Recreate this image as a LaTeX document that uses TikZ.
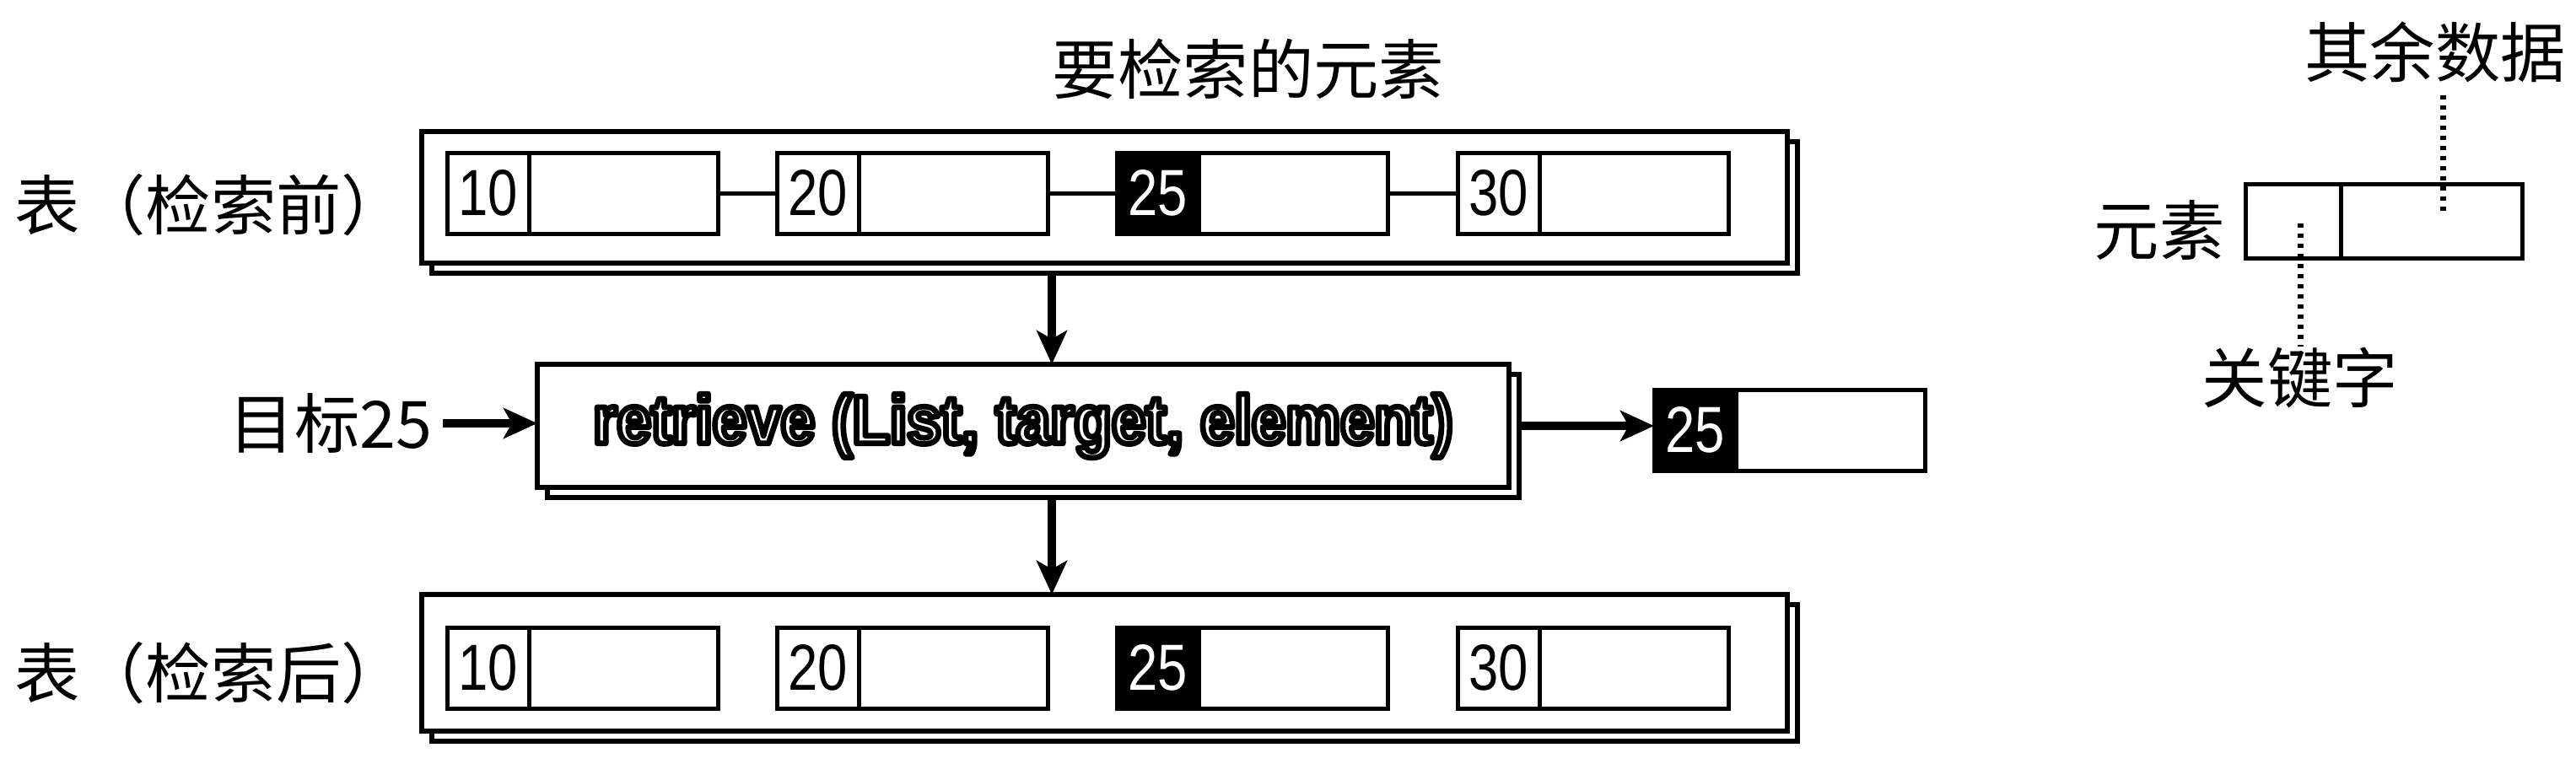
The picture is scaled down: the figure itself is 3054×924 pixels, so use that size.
\documentclass[tikz,border=0pt]{standalone}
\usepackage{fontspec}
\setmainfont{Liberation Sans}
\newfontfamily\cjk{Noto Sans CJK SC}
\newfontfamily\narrow[FakeStretch=0.82]{Liberation Sans}
\newfontfamily\rfont[FakeStretch=0.9]{Liberation Sans}
\usetikzlibrary{arrows.meta}
\newcommand\outlinetext[1]{{\color{white}\special{pdf:literal direct 2 Tr 0 G 1.9 w 1 j}#1\special{pdf:literal direct 0 Tr}}}
\tikzset{
  cjkt/.style={font=\cjk\fontsize{22}{22}\selectfont, inner sep=0pt},
  keycell/.style={draw, line width=0.05cm, outer sep=0pt, minimum width=0.97cm, minimum height=0.96cm, inner sep=0pt, anchor=north west, font=\narrow\fontsize{22}{22}\selectfont},
  keydark/.style={keycell, fill=black, text=white},
  datacell/.style={draw, line width=0.05cm, outer sep=0pt, minimum width=2.24cm, minimum height=0.96cm, inner sep=0pt, anchor=west},
  listbox/.style={draw, line width=0.06cm, outer sep=0pt, fill=white, inner sep=0pt, anchor=north west},
  shadowbox/.style={draw, line width=0.06cm, outer sep=0pt, inner sep=0pt, anchor=north west},
  bigarrow/.style={line width=0.1cm, -{Stealth[length=0.4cm, width=0.36cm, inset=0.1cm]}},
  linkline/.style={line width=0.05cm},
  dotline/.style={line width=0.07cm, dash pattern=on 0.05cm off 0.07cm}
}
\begin{document}
\begin{tikzpicture}[x=0.01cm, y=-0.01cm]
\useasboundingbox (0,0) rectangle (3054,924);

% title
\node[cjkt] (title) at (1480,82) {要检索的元素};

% ---------- top list ----------
\node[cjkt] (lbltop) at (250,243) {表（检索前）};
\node[shadowbox, minimum width=16.18cm, minimum height=1.56cm] (topsh) at (512,168) {};
\node[listbox, minimum width=16.18cm, minimum height=1.56cm] (top) at (500,156) {};

\node[keycell] (tk1) at (530,181) {10};
\node[datacell] (td1) at (tk1.east) {};
\node[keycell] (tk2) at (921,181) {20};
\node[datacell] (td2) at (tk2.east) {};
\node[keydark] (tk3) at (1324,181) {25};
\node[datacell] (td3) at (tk3.east) {};
\node[keycell] (tk4) at (1728,181) {30};
\node[datacell] (td4) at (tk4.east) {};
\draw[linkline] (td1.east) -- (tk2.west);
\draw[linkline] (td2.east) -- (tk3.west);
\draw[linkline] (td3.east) -- (tk4.west);

% ---------- retrieve ----------
\node[shadowbox, minimum width=11.51cm, minimum height=1.46cm] (retsh) at (649,444) {};
\node[listbox, minimum width=11.51cm, minimum height=1.46cm] (ret) at (637,432) {};
\node[inner sep=0pt, font=\rfont\bfseries\fontsize{23}{23}\selectfont] (rettext) at (ret.center) {\outlinetext{retrieve (List, target, element)}};

\node[cjkt] (target) at (392,502) {目标25};

\node[keydark] (rk) at (1961,462) {25};
\node[datacell] (rd) at (rk.east) {};

\coordinate (ax) at (1247,0);
\draw[bigarrow] (topsh.south -| ax) -- (ret.north -| ax);
\draw[bigarrow] (target.east) ++(12,0) coordinate (tstart) -- (ret.west |- tstart);
\draw[bigarrow] (retsh.east |- ret.center) -- (rk.west |- ret.center);

% ---------- bottom list ----------
\node[cjkt] (lblbot) at (250,798) {表（检索后）};
\node[shadowbox, minimum width=16.18cm, minimum height=1.62cm] (botsh) at (512,717) {};
\node[listbox, minimum width=16.18cm, minimum height=1.62cm] (bot) at (500,705) {};
\draw[bigarrow] (retsh.south -| ax) -- (bot.north -| ax);

\node[keycell] (bk1) at (530,744) {10};
\node[datacell] (bd1) at (bk1.east) {};
\node[keycell] (bk2) at (921,744) {20};
\node[datacell] (bd2) at (bk2.east) {};
\node[keydark] (bk3) at (1324,744) {25};
\node[datacell] (bd3) at (bk3.east) {};
\node[keycell] (bk4) at (1728,744) {30};
\node[datacell] (bd4) at (bk4.east) {};

% ---------- legend ----------
\node[cjkt] (rest) at (2887,62) {其余数据};
\node[cjkt] (elemlbl) at (2560,273) {元素};
\node[keycell, minimum width=1.13cm, minimum height=0.88cm] (lk) at (2662,218) {};
\node[datacell, minimum width=2.15cm, minimum height=0.88cm] (ld) at (lk.east) {};
\node[cjkt] (keylbl) at (2727,448) {关键字};
\coordinate (qend) at (2896,250);
\coordinate (kstart) at (2727,265);
\draw[dotline] (rest.south -| qend) ++(0,14) -- (qend);
\draw[dotline] (kstart) -- (keylbl.north -| kstart);
\end{tikzpicture}
\end{document}
